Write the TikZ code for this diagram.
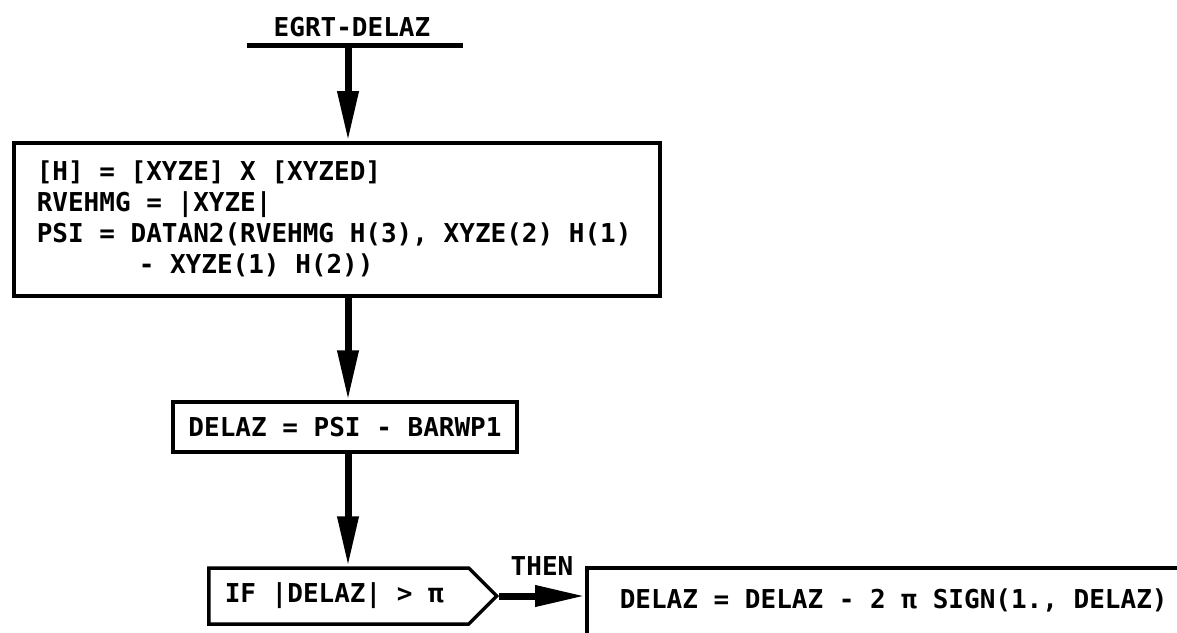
\documentclass[tikz,border=0pt]{standalone}
\usepackage{fontspec}
\newfontfamily\plotterfont{DejaVu Sans Mono}
\usetikzlibrary{arrows.meta,shapes.symbols}

\begin{document}
\begin{tikzpicture}[x=0.5pt,y=-0.5pt,
  lettering/.style={font=\plotterfont\bfseries\fontsize{13}{15.5}\selectfont,
    execute at begin node={\spaceskip=0pt\relax\xspaceskip=0pt\relax}},
  box/.style={draw, line width=1.75pt, lettering},
  flow/.style={line width=3.5pt, -{Triangle[length=25pt, width=10pt]}}]
\useasboundingbox (0,0) rectangle (1177,632);
\clip (0,0) rectangle (1177,632);
\node[lettering] (title) at (352,27) {EGRT-DELAZ};
\draw[line width=2.5pt] (247,45) -- (463,45);
\coordinate (entry) at (348,45);
\node[box, anchor=north west, text width=300pt, align=left, inner xsep=11.5pt, minimum height=76.5pt] (calc) at (12,141)
  {[H] = [XYZE] X [XYZED]\\
   RVEHMG = |XYZE|\\
   PSI = DATAN2(RVEHMG H(3), XYZE(2) H(1)\\
   \hspace*{51pt}- XYZE(1) H(2))};
\node[box, minimum width=172pt, minimum height=25pt] (delaz) at (345,427) {DELAZ = PSI - BARWP1};
\node[box, signal, signal to=east, signal pointer angle=90, anchor=west, text width=114pt, align=left, inner xsep=8pt, minimum height=28pt] (test) at (207,596) {IF |DELAZ| > π};
\node[lettering] (then) at (542,566) {THEN};
\node[box, anchor=north west, inner xsep=16.5pt, inner ysep=0pt, text height=20.25pt, text depth=40pt] (fix) at (585,566) {DELAZ = DELAZ - 2 π SIGN(1., DELAZ)};
\draw[flow] (entry) -- (calc.north -| entry);
\draw[flow] (calc.south -| entry) -- (delaz.north -| entry);
\draw[flow] (delaz.south -| entry) -- (test.north -| entry);
\draw[flow] (test.east) -- (test.east -| fix.west);
\end{tikzpicture}
\end{document}
